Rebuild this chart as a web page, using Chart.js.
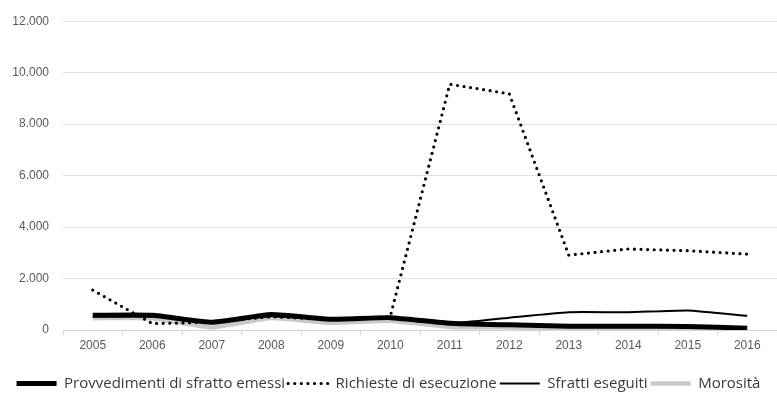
<!DOCTYPE html>
<html lang="it">
<head>
<meta charset="utf-8">
<title>Sfratti 2005-2016</title>
<script src="https://cdn.jsdelivr.net/npm/chart.js@4/dist/chart.umd.min.js"></script>
<style>
  html, body { margin: 0; padding: 0; background: #ffffff; }
  #wrap { position: relative; width: 777px; height: 393px; }
</style>
</head>
<body>
<div id="wrap"><canvas id="chart"></canvas></div>
<script>
// Anni
const years = ['2005', '2006', '2007', '2008', '2009', '2010', '2011', '2012', '2013', '2014', '2015', '2016'];

// Serie
const provvedimenti = [575, 575, 300, 600, 420, 480, 260, 200, 150, 150, 140, 70];
const richieste = [1550, 250, 300, 520, 400, 520, 9550, 9180, 2910, 3150, 3080, 2950];
const sfrattiEseguiti = [520, 520, 350, 530, 420, 480, 260, 480, 690, 690, 760, 550];
const morosita = [460, 460, 100, 470, 280, 360, 120, 100, 60, 50, 40, 20];

// Etichette della legenda
const seriesNames = ['Provvedimenti di sfratto emessi', 'Richieste di esecuzione', 'Sfratti eseguiti', 'Morosità'];

// Scala verticale
const yMax = 12000;
const yStep = 2000;

const fmt = new Intl.NumberFormat('it-IT');

new Chart(document.getElementById('chart'), {
  type: 'line',
  data: {
    labels: years,
    datasets: [
      {
        label: seriesNames[0],
        data: provvedimenti,
        borderColor: '#000000',
        borderWidth: 5,
        tension: 0.15
      },
      {
        label: seriesNames[1],
        data: richieste,
        borderColor: '#000000',
        borderWidth: 3.2,
        borderDash: [0, 6.6],
        borderCapStyle: 'round',
        tension: 0
      },
      {
        label: seriesNames[2],
        data: sfrattiEseguiti,
        borderColor: '#000000',
        borderWidth: 2,
        tension: 0.15
      },
      {
        label: seriesNames[3],
        data: morosita,
        borderColor: '#c9c9c9',
        borderWidth: 4.5,
        tension: 0.15
      }
    ]
  },
  options: {
    responsive: true,
    maintainAspectRatio: false,
    animation: false,
    devicePixelRatio: 1,
    layout: { padding: { top: 20, right: 0, bottom: -8, left: 0 } },
    elements: { point: { radius: 0, hoverRadius: 0 } },
    scales: {
      x: {
        offset: true,
        grid: {
          offset: true,
          drawOnChartArea: false,
          drawTicks: true,
          tickLength: 5,
          color: '#cfd4dc'
        },
        border: { display: true, color: '#cfd4dc', width: 1 },
        ticks: {
          padding: 3,
          color: '#595959',
          font: { family: '"Liberation Sans", Arial, sans-serif', size: 12 },
          maxRotation: 0
        },
        afterFit(scale) { scale.height = 43; }
      },
      y: {
        min: 0,
        max: yMax,
        ticks: {
          stepSize: yStep,
          padding: 14,
          color: '#595959',
          font: { family: '"Liberation Sans", Arial, sans-serif', size: 12 },
          callback: (v) => fmt.format(v)
        },
        grid: { color: '#dde1e8', lineWidth: 1, drawTicks: false },
        border: { display: false },
        afterFit(scale) { scale.width = 63; }
      }
    },
    plugins: {
      tooltip: { enabled: false },
      legend: {
        position: 'bottom',
        align: 'center',
        labels: {
          usePointStyle: true,
          pointStyle: 'line',
          pointStyleWidth: 40,
          padding: 3,
          color: '#3a3a3a',
          font: { family: '"Open Sans", sans-serif', size: 15 },
          generateLabels(chart) {
            const items = Chart.defaults.plugins.legend.labels.generateLabels(chart);
            items.forEach((item) => {
              const ds = chart.data.datasets[item.datasetIndex];
              item.lineDash = ds.borderDash || [];
              item.lineCap = ds.borderCapStyle || 'butt';
              item.lineWidth = ds.borderWidth;
              item.strokeStyle = ds.borderColor;
            });
            return items;
          }
        }
      }
    }
  }
});
</script>
</body>
</html>
